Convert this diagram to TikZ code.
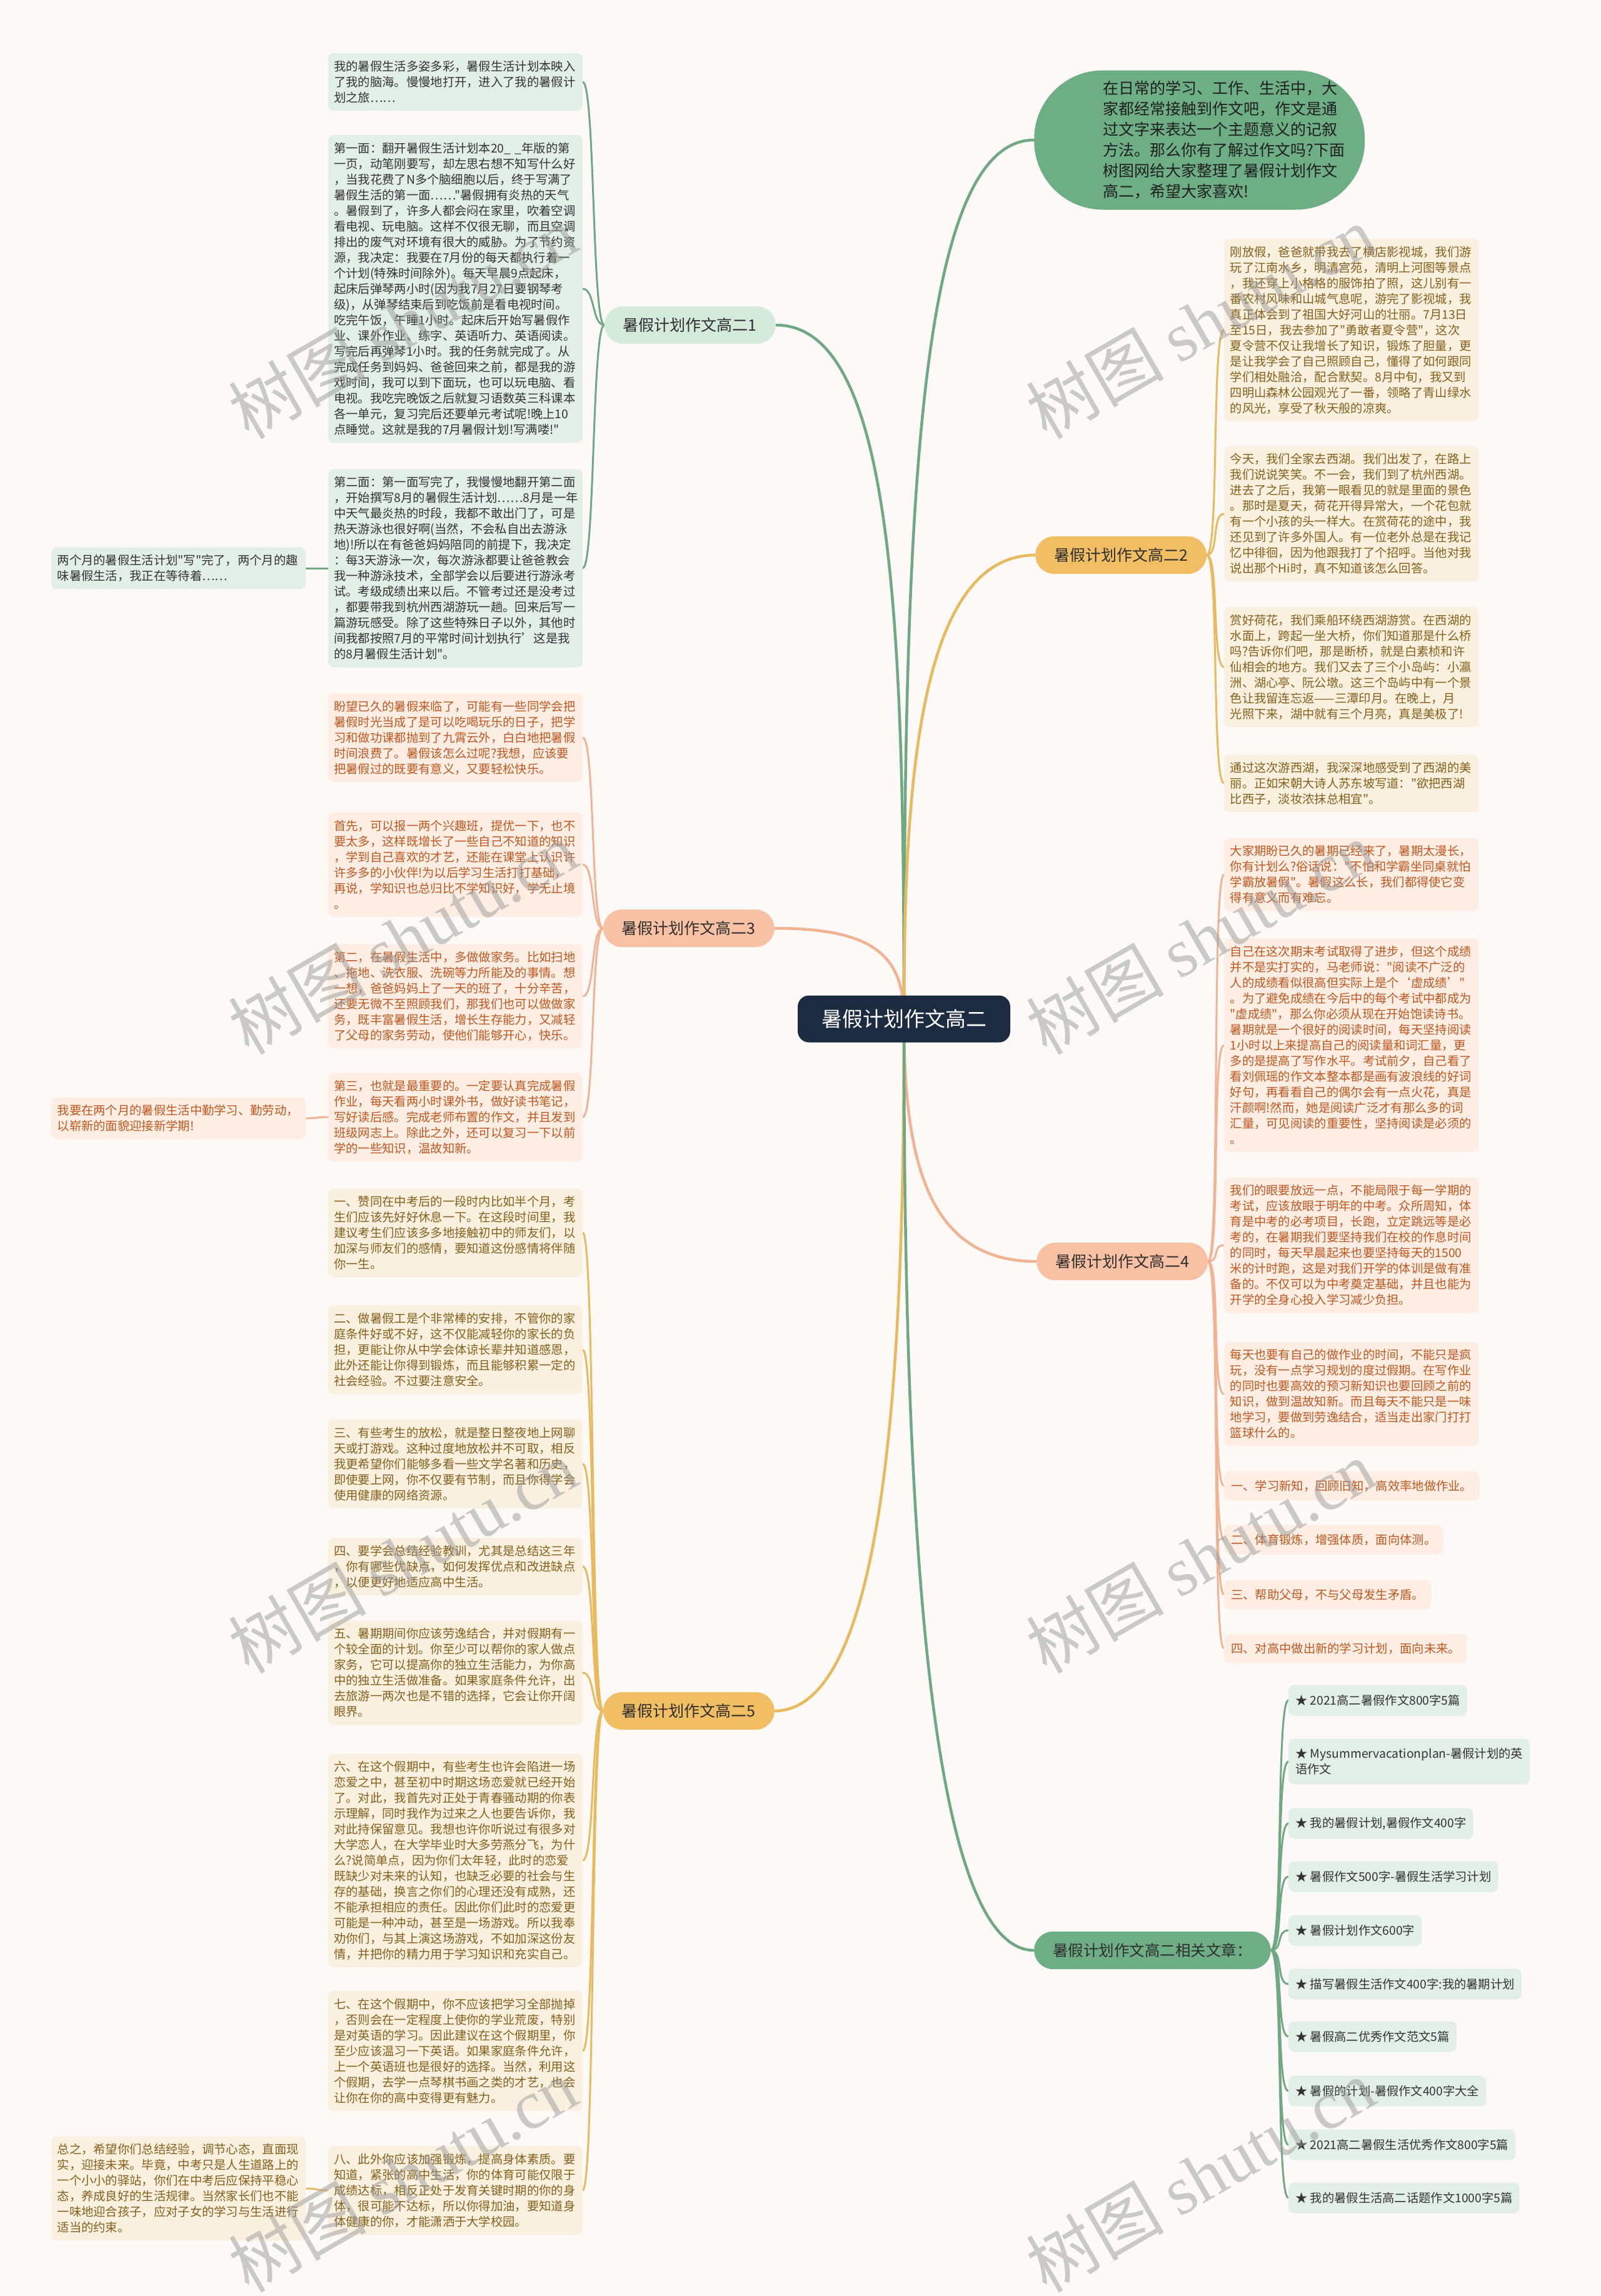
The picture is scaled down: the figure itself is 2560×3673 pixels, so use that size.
\documentclass[tikz,border=0pt]{standalone}
\usepackage{fontspec}
\newfontfamily\cjkfont{Noto Sans CJK SC}
\newfontfamily\wmfont{Liberation Serif}
\usetikzlibrary{calc,backgrounds}
\definecolor{bgc}{HTML}{FDF9F7}
\definecolor{rootc}{HTML}{1D2B41}
\definecolor{gline}{HTML}{6FA883}
\definecolor{gfill}{HTML}{E2EFE6}
\definecolor{gtext}{HTML}{333333}
\definecolor{gpill}{HTML}{D4EADB}
\definecolor{gbig}{HTML}{6DAE85}
\definecolor{oline}{HTML}{E9B95E}
\definecolor{ofill}{HTML}{FAF0DF}
\definecolor{otext}{HTML}{85601A}
\definecolor{opill}{HTML}{F1BE64}
\definecolor{sline}{HTML}{F2B393}
\definecolor{sfill}{HTML}{FDEDE3}
\definecolor{stext}{HTML}{C0571F}
\definecolor{spill}{HTML}{F8C1A4}
\definecolor{wmc}{HTML}{9A9A9A}
\newcommand\lcon[3]{\draw[#1] (#2.west) .. controls ($(#2.west)+(-20,0)$) and ($(#3.east)+(20,0)$) .. (#3.east);}
\newcommand\rcon[3]{\draw[#1] (#2.east) .. controls ($(#2.east)+(20,0)$) and ($(#3.west)+(-20,0)$) .. (#3.west);}
\tikzset{
 txt/.style={font=\cjkfont\fontsize{19.3}{25}\selectfont, align=left, text width=388pt, inner xsep=9.5pt, inner ysep=0pt, rounded corners=9pt},
 one/.style={font=\cjkfont\fontsize{19.3}{25}\selectfont, align=left, inner xsep=11pt, inner ysep=0pt, minimum height=47pt, rounded corners=9pt},
 gbox/.style={txt, fill=gfill, text=gtext},
 obox/.style={txt, fill=ofill, text=otext},
 sbox/.style={txt, fill=sfill, text=stext},
 gone/.style={one, fill=gfill, text=gtext},
 sone/.style={one, fill=sfill, text=stext},
 pill/.style={font=\cjkfont\fontsize{25}{30}\selectfont, inner xsep=30pt, inner ysep=0pt, minimum height=60pt, rounded corners=30pt, text=black!82},
 gl/.style={draw=gline, line width=3pt},
 ol/.style={draw=oline, line width=3pt},
 sl/.style={draw=sline, line width=3pt},
 wm/.style={font=\cjkfont\fontsize{110}{110}\selectfont, text=wmc, text opacity=0.5, rotate=30, inner sep=0pt}
}
\begin{document}
\begin{tikzpicture}[x=1pt,y=-1pt]
\useasboundingbox (0,0) rectangle (2560,3673);

% root
\node[fill=rootc, text=white, font=\cjkfont\fontsize{33}{38}\selectfont, inner xsep=38pt, inner ysep=0pt, minimum height=75pt, rounded corners=18pt] (root) at (1446,1630) {暑假计划作文高二};

% top bubble
\node[fill=gbig, text=black!88, font=\cjkfont\fontsize{25}{33}\selectfont, align=left, text width=529pt, inner xsep=0pt, inner ysep=0pt, minimum height=223pt, rounded corners=110pt, anchor=west] (top) at (1654,224) {\leftskip=110pt\relax 在日常的学习、工作、生活中，大\\
\leftskip=110pt\relax 家都经常接触到作文吧，作文是通\\
\leftskip=110pt\relax 过文字来表达一个主题意义的记叙\\
\leftskip=110pt\relax 方法。那么你有了解过作文吗?下面\\
\leftskip=110pt\relax 树图网给大家整理了暑假计划作文\\
\leftskip=110pt\relax 高二，希望大家喜欢!\par};

% branches
\node[pill, fill=gpill, anchor=east] (b1) at (1241,520) {暑假计划作文高二1};
\node[pill, fill=spill, anchor=east] (b3) at (1239,1485) {暑假计划作文高二3};
\node[pill, fill=opill, anchor=east] (b5) at (1239,2737) {暑假计划作文高二5};
\node[pill, fill=opill, anchor=west] (b2) at (1656,888) {暑假计划作文高二2};
\node[pill, fill=spill, anchor=west] (b4) at (1658,2018) {暑假计划作文高二4};
\node[pill, fill=gbig, anchor=west, font=\cjkfont\fontsize{24.5}{30}\selectfont] (rel) at (1654,3120) {暑假计划作文高二相关文章：};

% ---- branch 1 (green)
\node[gbox, anchor=east, minimum height=92pt] (L1) at (932,131) {我的暑假生活多姿多彩，暑假生活计划本映入\\
了我的脑海。慢慢地打开，进入了我的暑假计\\
划之旅……};
\node[gbox, anchor=east, minimum height=492pt] (L2) at (932,462) {第一面：翻开暑假生活计划本20\_~\_年版的第\\
一页，动笔刚要写，却左思右想不知写什么好\\
，当我花费了N多个脑细胞以后，终于写满了\\
暑假生活的第一面……"暑假拥有炎热的天气\\
。暑假到了，许多人都会闷在家里，吹着空调\\
看电视、玩电脑。这样不仅很无聊，而且空调\\
排出的废气对环境有很大的威胁。为了节约资\\
源，我决定：我要在7月份的每天都执行着一\\
个计划(特殊时间除外)。每天早晨9点起床，\\
起床后弹琴两小时(因为我7月27日要钢琴考\\
级)，从弹琴结束后到吃饭前是看电视时间。\\
吃完午饭，午睡1小时。起床后开始写暑假作\\
业、课外作业、练字、英语听力、英语阅读。\\
写完后再弹琴1小时。我的任务就完成了。从\\
完成任务到妈妈、爸爸回来之前，都是我的游\\
戏时间，我可以到下面玩，也可以玩电脑、看\\
电视。我吃完晚饭之后就复习语数英三科课本\\
各一单元，复习完后还要单元考试呢!晚上10\\
点睡觉。这就是我的7月暑假计划!写满喽!"};
\node[gbox, anchor=east, minimum height=317pt] (L3) at (932,909) {第二面：第一面写完了，我慢慢地翻开第二面\\
，开始撰写8月的暑假生活计划……8月是一年\\
中天气最炎热的时段，我都不敢出门了，可是\\
热天游泳也很好啊(当然，不会私自出去游泳\\
地)!所以在有爸爸妈妈陪同的前提下，我决定\\
：每3天游泳一次，每次游泳都要让爸爸教会\\
我一种游泳技术，全部学会以后要进行游泳考\\
试。考级成绩出来以后。不管考过还是没考过\\
，都要带我到杭州西湖游玩一趟。回来后写一\\
篇游玩感受。除了这些特殊日子以外，其他时\\
间我都按照7月的平常时间计划执行’这是我\\
的8月暑假生活计划"。};
\node[gbox, anchor=west, minimum height=67pt] (L4) at (82,909) {两个月的暑假生活计划"写"完了，两个月的趣\\
味暑假生活，我正在等待着……};

% ---- branch 3 (salmon)
\node[sbox, anchor=east, minimum height=142pt] (L5) at (932,1180) {盼望已久的暑假来临了，可能有一些同学会把\\
暑假时光当成了是可以吃喝玩乐的日子，把学\\
习和做功课都抛到了九霄云外，白白地把暑假\\
时间浪费了。暑假该怎么过呢?我想，应该要\\
把暑假过的既要有意义，又要轻松快乐。};
\node[sbox, anchor=east, minimum height=167pt] (L6) at (932,1383) {首先，可以报一两个兴趣班，提优一下，也不\\
要太多，这样既增长了一些自己不知道的知识\\
，学到自己喜欢的才艺，还能在课堂上认识许\\
许多多的小伙伴!为以后学习生活打打基础，\\
再说，学知识也总归比不学知识好，学无止境\\
。};
\node[sbox, anchor=east, minimum height=167pt] (L7) at (932,1594) {第二，在暑假生活中，多做做家务。比如扫地\\
、拖地、洗衣服、洗碗等力所能及的事情。想\\
一想，爸爸妈妈上了一天的班了，十分辛苦，\\
还要无微不至照顾我们，那我们也可以做做家\\
务，既丰富暑假生活，增长生存能力，又减轻\\
了父母的家务劳动，使他们能够开心，快乐。};
\node[sbox, anchor=east, minimum height=142pt] (L8) at (932,1787) {第三，也就是最重要的。一定要认真完成暑假\\
作业，每天看两小时课外书，做好读书笔记，\\
写好读后感。完成老师布置的作文，并且发到\\
班级网志上。除此之外，还可以复习一下以前\\
学的一些知识，温故知新。};
\node[sbox, anchor=west, minimum height=67pt] (L9) at (82,1789) {我要在两个月的暑假生活中勤学习、勤劳动，\\
以崭新的面貌迎接新学期!};

% ---- branch 5 (gold)
\node[obox, anchor=east, minimum height=142pt] (L10) at (932,1972) {一、赞同在中考后的一段时内比如半个月，考\\
生们应该先好好休息一下。在这段时间里，我\\
建议考生们应该多多地接触初中的师友们，以\\
加深与师友们的感情，要知道这份感情将伴随\\
你一生。};
\node[obox, anchor=east, minimum height=142pt] (L11) at (932,2159) {二、做暑假工是个非常棒的安排，不管你的家\\
庭条件好或不好，这不仅能减轻你的家长的负\\
担，更能让你从中学会体谅长辈并知道感恩，\\
此外还能让你得到锻炼，而且能够积累一定的\\
社会经验。不过要注意安全。};
\node[obox, anchor=east, minimum height=142pt] (L12) at (932,2342) {三、有些考生的放松，就是整日整夜地上网聊\\
天或打游戏。这种过度地放松并不可取，相反\\
我更希望你们能够多看一些文学名著和历史，\\
即使要上网，你不仅要有节制，而且你得学会\\
使用健康的网络资源。};
\node[obox, anchor=east, minimum height=92pt] (L13) at (932,2506) {四、要学会总结经验教训，尤其是总结这三年\\
，你有哪些优缺点，如何发挥优点和改进缺点\\
，以便更好地适应高中生活。};
\node[obox, anchor=east, minimum height=167pt] (L14) at (932,2676) {五、暑期期间你应该劳逸结合，并对假期有一\\
个较全面的计划。你至少可以帮你的家人做点\\
家务，它可以提高你的独立生活能力，为你高\\
中的独立生活做准备。如果家庭条件允许，出\\
去旅游一两次也是不错的选择，它会让你开阔\\
眼界。};
\node[obox, anchor=east, minimum height=342pt] (L15) at (932,2976) {六、在这个假期中，有些考生也许会陷进一场\\
恋爱之中，甚至初中时期这场恋爱就已经开始\\
了。对此，我首先对正处于青春骚动期的你表\\
示理解，同时我作为过来之人也要告诉你，我\\
对此持保留意见。我想也许你听说过有很多对\\
大学恋人，在大学毕业时大多劳燕分飞，为什\\
么?说简单点，因为你们太年轻，此时的恋爱\\
既缺少对未来的认知，也缺乏必要的社会与生\\
存的基础，换言之你们的心理还没有成熟，还\\
不能承担相应的责任。因此你们此时的恋爱更\\
可能是一种冲动，甚至是一场游戏。所以我奉\\
劝你们，与其上演这场游戏，不如加深这份友\\
情，并把你的精力用于学习知识和充实自己。};
\node[obox, anchor=east, minimum height=192pt] (L16) at (932,3281) {七、在这个假期中，你不应该把学习全部抛掉\\
，否则会在一定程度上使你的学业荒废，特别\\
是对英语的学习。因此建议在这个假期里，你\\
至少应该温习一下英语。如果家庭条件允许，\\
上一个英语班也是很好的选择。当然，利用这\\
个假期，去学一点琴棋书画之类的才艺，也会\\
让你在你的高中变得更有魅力。};
\node[obox, anchor=east, minimum height=142pt] (L17) at (932,3504) {八、此外你应该加强锻炼，提高身体素质。要\\
知道，紧张的高中生活，你的体育可能仅限于\\
成绩达标，相反正处于发育关键时期的你的身\\
体，很可能不达标，所以你得加油，要知道身\\
体健康的你，才能潇洒于大学校园。};
\node[obox, anchor=west, minimum height=167pt] (L18) at (82,3501) {总之，希望你们总结经验，调节心态，直面现\\
实，迎接未来。毕竟，中考只是人生道路上的\\
一个小小的驿站，你们在中考后应保持平稳心\\
态，养成良好的生活规律。当然家长们也不能\\
一味地迎合孩子，应对子女的学习与生活进行\\
适当的约束。};

% ---- branch 2 (gold, right)
\node[obox, anchor=west, minimum height=292pt] (R1) at (1958,528) {刚放假，爸爸就带我去了横店影视城，我们游\\
玩了江南水乡，明清宫苑，清明上河图等景点\\
，我还穿上小格格的服饰拍了照，这儿别有一\\
番农村风味和山城气息呢，游完了影视城，我\\
真正体会到了祖国大好河山的壮丽。7月13日\\
至15日，我去参加了"勇敢者夏令营"，这次\\
夏令营不仅让我增长了知识，锻炼了胆量，更\\
是让我学会了自己照顾自己，懂得了如何跟同\\
学们相处融洽，配合默契。8月中旬，我又到\\
四明山森林公园观光了一番，领略了青山绿水\\
的风光，享受了秋天般的凉爽。};
\node[obox, anchor=west, minimum height=217pt] (R2) at (1958,822) {今天，我们全家去西湖。我们出发了，在路上\\
我们说说笑笑。不一会，我们到了杭州西湖。\\
进去了之后，我第一眼看见的就是里面的景色\\
。那时是夏天，荷花开得异常大，一个花包就\\
有一个小孩的头一样大。在赏荷花的途中，我\\
还见到了许多外国人。有一位老外总是在我记\\
忆中徘徊，因为他跟我打了个招呼。当他对我\\
说出那个Hi时，真不知道该怎么回答。};
\node[obox, anchor=west, minimum height=192pt] (R3) at (1958,1067) {赏好荷花，我们乘船环绕西湖游赏。在西湖的\\
水面上，跨起一坐大桥，你们知道那是什么桥\\
吗?告诉你们吧，那是断桥，就是白素桢和许\\
仙相会的地方。我们又去了三个小岛屿：小瀛\\
洲、湖心亭、阮公墩。这三个岛屿中有一个景\\
色让我留连忘返——三潭印月。在晚上，月\\
光照下来，湖中就有三个月亮，真是美极了!};
\node[obox, anchor=west, minimum height=92pt] (R4) at (1958,1253) {通过这次游西湖，我深深地感受到了西湖的美\\
丽。正如宋朝大诗人苏东坡写道："欲把西湖\\
比西子，淡妆浓抹总相宜"。};

% ---- branch 4 (salmon, right)
\node[sbox, anchor=west, minimum height=117pt] (S1) at (1958,1399) {大家期盼已久的暑期已经来了，暑期太漫长，\\
你有计划么?俗话说："不怕和学霸坐同桌就怕\\
学霸放暑假"。暑假这么长，我们都得使它变\\
得有意义而有难忘。};
\node[sbox, anchor=west, minimum height=342pt] (S2) at (1958,1672) {自己在这次期末考试取得了进步，但这个成绩\\
并不是实打实的，马老师说："阅读不广泛的\\
人的成绩看似很高但实际上是个‘虚成绩’"\\
。为了避免成绩在今后中的每个考试中都成为\\
"虚成绩"，那么你必须从现在开始饱读诗书。\\
暑期就是一个很好的阅读时间，每天坚持阅读\\
1小时以上来提高自己的阅读量和词汇量，更\\
多的是提高了写作水平。考试前夕，自己看了\\
看刘佩瑶的作文本整本都是画有波浪线的好词\\
好句，再看看自己的偶尔会有一点火花，真是\\
汗颜啊!然而，她是阅读广泛才有那么多的词\\
汇量，可见阅读的重要性，坚持阅读是必须的\\
。};
\node[sbox, anchor=west, minimum height=217pt] (S3) at (1958,1992) {我们的眼要放远一点，不能局限于每一学期的\\
考试，应该放眼于明年的中考。众所周知，体\\
育是中考的必考项目，长跑，立定跳远等是必\\
考的，在暑期我们要坚持我们在校的作息时间\\
的同时，每天早晨起来也要坚持每天的1500\\
米的计时跑，这是对我们开学的体训是做有准\\
备的。不仅可以为中考奠定基础，并且也能为\\
开学的全身心投入学习减少负担。};
\node[sbox, anchor=west, minimum height=167pt] (S4) at (1958,2230) {每天也要有自己的做作业的时间，不能只是疯\\
玩，没有一点学习规划的度过假期。在写作业\\
的同时也要高效的预习新知识也要回顾之前的\\
知识，做到温故知新。而且每天不能只是一味\\
地学习，要做到劳逸结合，适当走出家门打打\\
篮球什么的。};
\node[sone, anchor=west] (S5) at (1958,2377) {一、学习新知，回顾旧知，高效率地做作业。};
\node[sone, anchor=west] (S6) at (1958,2463) {二、体育锻炼，增强体质，面向体测。};
\node[sone, anchor=west] (S7) at (1958,2551) {三、帮助父母，不与父母发生矛盾。};
\node[sone, anchor=west] (S8) at (1958,2637) {四、对高中做出新的学习计划，面向未来。};

% ---- related (green, right)
\node[gone, anchor=west, minimum height=49pt] (r1) at (2061,2720) {★ 2021高二暑假作文800字5篇};
\node[gone, anchor=west, minimum height=73pt] (r2) at (2061,2818) {★ Mysummervacationplan-暑假计划的英\\语作文};
\node[gone, anchor=west, minimum height=49pt] (r3) at (2061,2917) {★ 我的暑假计划,暑假作文400字};
\node[gone, anchor=west, minimum height=49pt] (r4) at (2061,3002) {★ 暑假作文500字-暑假生活学习计划};
\node[gone, anchor=west, minimum height=49pt] (r5) at (2061,3088) {★ 暑假计划作文600字};
\node[gone, anchor=west, minimum height=49pt] (r6) at (2061,3174) {★ 描写暑假生活作文400字:我的暑期计划};
\node[gone, anchor=west, minimum height=49pt] (r7) at (2061,3258) {★ 暑假高二优秀作文范文5篇};
\node[gone, anchor=west, minimum height=49pt] (r8) at (2061,3345) {★ 暑假的计划-暑假作文400字大全};
\node[gone, anchor=west, minimum height=49pt] (r9) at (2061,3431) {★ 2021高二暑假生活优秀作文800字5篇};
\node[gone, anchor=west, minimum height=49pt] (r10) at (2061,3516) {★ 我的暑假生活高二话题作文1000字5篇};

% watermarks
\node[wm] (w1) at (644,515) {树图 {\wmfont shutu.cn}};
\node[wm] (w2) at (1920,515) {树图 {\wmfont shutu.cn}};
\node[wm] (w3) at (644,1500) {树图 {\wmfont shutu.cn}};
\node[wm] (w4) at (1920,1500) {树图 {\wmfont shutu.cn}};
\node[wm] (w5) at (644,2490) {树图 {\wmfont shutu.cn}};
\node[wm] (w6) at (1920,2490) {树图 {\wmfont shutu.cn}};
\node[wm] (w7) at (644,3480) {树图 {\wmfont shutu.cn}};
\node[wm] (w8) at (1920,3480) {树图 {\wmfont shutu.cn}};

\begin{scope}[on background layer]
\fill[bgc] (0,0) rectangle (2560,3673);
% root connectors
\draw[gline, line width=4.5pt] (b1.east) .. controls (1430,520) and (1446,1000) .. (root.center);
\draw[sline, line width=4.5pt] (b3.east) .. controls (1400,1485) and (1446,1530) .. (root.center);
\draw[oline, line width=4.5pt] (b5.east) .. controls (1430,2737) and (1446,2100) .. (root.center);
\draw[gline, line width=4.5pt] (top.west) .. controls (1470,224) and (1446,800) .. (root.center);
\draw[oline, line width=4.5pt] (b2.west) .. controls (1470,888) and (1446,1250) .. (root.center);
\draw[sline, line width=4.5pt] (b4.west) .. controls (1480,2018) and (1446,1850) .. (root.center);
\draw[gline, line width=4.5pt] (rel.west) .. controls (1470,3120) and (1446,2300) .. (root.center);
% branch 1
\lcon{gl}{b1}{L1}
\lcon{gl}{b1}{L2}
\lcon{gl}{b1}{L3}
\lcon{gl}{L3}{L4}
% branch 3
\lcon{sl}{b3}{L5}
\lcon{sl}{b3}{L6}
\lcon{sl}{b3}{L7}
\lcon{sl}{b3}{L8}
\lcon{sl}{L8}{L9}
% branch 5
\lcon{ol}{b5}{L10}
\lcon{ol}{b5}{L11}
\lcon{ol}{b5}{L12}
\lcon{ol}{b5}{L13}
\lcon{ol}{b5}{L14}
\lcon{ol}{b5}{L15}
\lcon{ol}{b5}{L16}
\lcon{ol}{b5}{L17}
\lcon{ol}{L17}{L18}
% branch 2
\rcon{ol}{b2}{R1}
\rcon{ol}{b2}{R2}
\rcon{ol}{b2}{R3}
\rcon{ol}{b2}{R4}
% branch 4
\rcon{sl}{b4}{S1}
\rcon{sl}{b4}{S2}
\rcon{sl}{b4}{S3}
\rcon{sl}{b4}{S4}
\rcon{sl}{b4}{S5}
\rcon{sl}{b4}{S6}
\rcon{sl}{b4}{S7}
\rcon{sl}{b4}{S8}
% related
\rcon{gl}{rel}{r1}
\rcon{gl}{rel}{r2}
\rcon{gl}{rel}{r3}
\rcon{gl}{rel}{r4}
\rcon{gl}{rel}{r5}
\rcon{gl}{rel}{r6}
\rcon{gl}{rel}{r7}
\rcon{gl}{rel}{r8}
\rcon{gl}{rel}{r9}
\rcon{gl}{rel}{r10}
\end{scope}
\end{tikzpicture}
\end{document}
